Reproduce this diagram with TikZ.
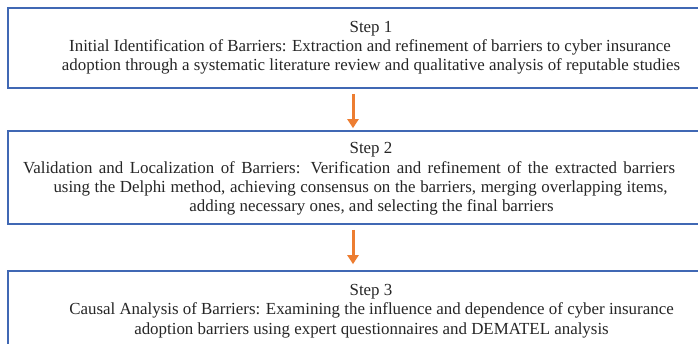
\documentclass[tikz,border=0pt]{standalone}
\usepackage{fontspec}
\setmainfont{Liberation Serif}
\usetikzlibrary{arrows.meta}
\definecolor{boxblue}{RGB}{64,104,180}
\definecolor{arrorange}{RGB}{237,125,49}
\tikzset{
  box/.style={draw=boxblue, line width=1.7pt, fill=white, rectangle, minimum width=726pt, inner sep=0pt},
  txt/.style={font=\fontsize{16.9}{19}\selectfont, inner sep=0pt, anchor=base, text=black!85},
  arr/.style={draw=arrorange, line width=3pt, -{Triangle[length=9pt,width=11pt]}}
}
\begin{document}
\begin{tikzpicture}[x=1pt,y=-1pt]
\useasboundingbox (0,0) rectangle (698,344);
\clip (0,0) rectangle (698,344);
\fill[white] (0,0) rectangle (698,344);
\node[box, minimum height=80pt] (box1) at (371,48) {};
\node[box, minimum height=93pt] (box2) at (371,177.5) {};
\node[box, minimum height=90pt] (box3) at (371,316) {};
% box 1 text
\node[txt] (t11) at (371,33) {Step 1};
\node[txt] (t12) at (370,52) {Initial Identification of Barriers: Extraction and refinement of barriers to cyber insurance};
\node[txt] (t13) at (371,70.5) {adoption through a systematic literature review and qualitative analysis of reputable studies};
% box 2 text
\node[txt] (t21) at (371,154) {Step 2};
\node[txt] (t22) at (349,173.5) {\makebox[652pt][s]{Validation and Localization of Barriers: Verification and refinement of the extracted barriers}};
\node[txt] (t23) at (360.5,193) {\makebox[614pt][s]{using the Delphi method, achieving consensus on the barriers, merging overlapping items,}};
\node[txt] (t24) at (371.5,212) {adding necessary ones, and selecting the final barriers};
% box 3 text
\node[txt] (t31) at (371,295) {Step 3};
\node[txt] (t32) at (371.5,315) {Causal Analysis of Barriers: Examining the influence and dependence of cyber insurance};
\node[txt] (t33) at (371.5,334.5) {adoption barriers using expert questionnaires and DEMATEL analysis};
% arrows
\draw[arr, shorten <=5pt, shorten >=2pt] ([xshift=-18pt]box1.south) -- ([xshift=-18pt]box2.north);
\draw[arr, shorten <=5pt, shorten >=6pt] ([xshift=-18pt]box2.south) -- ([xshift=-18pt]box3.north);
\end{tikzpicture}
\end{document}
